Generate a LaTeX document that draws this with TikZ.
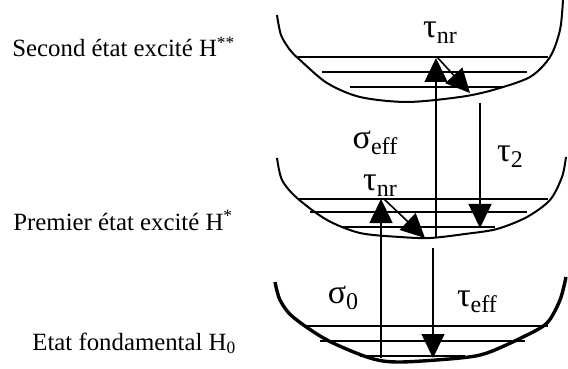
\documentclass[tikz,border=0pt]{standalone}
\usepackage{fontspec}
\setmainfont{Liberation Serif}
\usetikzlibrary{arrows.meta}
\newcommand{\gsub}[2]{#1\raisebox{-3pt}{\fontsize{12}{12}\selectfont #2}}

\begin{document}
\begin{tikzpicture}[x=0.5pt, y=-0.5pt,
    well/.style={line width=1pt, line join=round},
    level/.style={line width=1pt},
    trans/.style={line width=0.8pt, -{Triangle[length=12pt,width=11.5pt]}},
    state/.style={anchor=base west, inner sep=0pt, font=\fontsize{12.4}{14}\selectfont},
    rate/.style={inner sep=0pt, font=\fontsize{17}{19}\selectfont}]
    \useasboundingbox (0,0) rectangle (568,369);

    % wells
    \draw[well] plot[smooth, tension=0.5] coordinates {(277,15) (281,35) (290,50) (300,60) (327,83) (360,97) (407,102) (460,97) (493,90) (530,77) (550,57) (560,30) (563,0)};
    \draw[well] plot[smooth, tension=0.5] coordinates {(277,158) (282,180) (297,198) (327,220) (360,233) (400,237) (430,238) (465,234) (497,229) (527,217) (550,200) (562,177) (566,157)};
    \draw[well, line width=1.7pt] plot[smooth, tension=0.5] coordinates {(275,282) (280,300) (293,317) (327,340) (370,358) (400,362) (460,358) (487,353) (523,337) (547,323) (560,300) (566,277)};

    % levels
    \draw[level] (298,57) -- (548,57);
    \draw[level] (322,72) -- (527,72);
    \draw[level] (350,87) -- (503,87);

    \draw[level] (298,199) -- (548,199);
    \draw[level] (310,212) -- (527,212);
    \draw[level] (342,227) -- (495,227);

    \draw[level] (303,326) -- (548,326);
    \draw[level] (320,341) -- (525,341);
    \draw[level] (360,356) -- (465,356);

    % states
    \node[state] (h2) at (12,57) {Second état excité H\textsuperscript{**}};
    \node[state] (h1) at (13,230) {Premier état excité H\textsuperscript{*}};
    \node[state] (h0) at (32,350) {Etat fondamental H\textsubscript{0}};

    % transitions
    \coordinate (s0a) at (381,358);
    \coordinate (s0b) at (381,199);
    \coordinate (nr1a) at (384,199);
    \coordinate (nr1b) at (425,238);
    \coordinate (sea) at (436,238);
    \coordinate (seb) at (436,58);
    \coordinate (nr2a) at (437,57);
    \coordinate (nr2b) at (470,93);
    \coordinate (t2a) at (480,103);
    \coordinate (t2b) at (480,228);
    \coordinate (tea) at (433,248);
    \coordinate (teb) at (433,358);

    \draw[trans] (s0a) -- (s0b);
    \draw[trans] (nr1a) -- (nr1b);
    \draw[trans] (sea) -- (seb);
    \draw[trans] (nr2a) -- (nr2b);
    \draw[trans] (t2a) -- (t2b);
    \draw[trans] (tea) -- (teb);

    % rates
    \node[rate] (nr2) at (440,33) {\gsub{τ}{nr}};
    \node[rate] (seff) at (375,143) {\gsub{σ}{eff}};
    \node[rate] (t2) at (510,157) {\gsub{τ}{2}};
    \node[rate] (nr1) at (380,186) {\gsub{τ}{nr}};
    \node[rate] (s0) at (343,298) {\gsub{σ}{0}};
    \node[rate] (teff) at (477,302) {\gsub{τ}{eff}};
\end{tikzpicture}
\end{document}
